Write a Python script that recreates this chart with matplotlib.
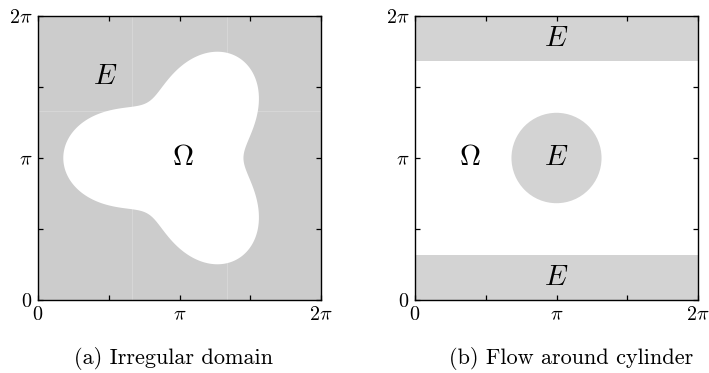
import numpy as np
import matplotlib
matplotlib.use("Agg")
import matplotlib.pyplot as plt
from matplotlib.patches import Circle, Rectangle

plt.rcParams['font.family'] = 'serif'
plt.rcParams['font.serif'] = ['cmr10']
plt.rcParams['mathtext.fontset'] = 'cm'
plt.rcParams['axes.unicode_minus'] = False

# domain and tick setup
L = 2 * np.pi
tick_pos = [0, np.pi / 2, np.pi, 3 * np.pi / 2, 2 * np.pi]
tick_lab = [r'$0$', '', r'$\pi$', '', r'$2\pi$']

# (a) irregular domain: three-lobed body centred in the box
lobe_center = (np.pi, np.pi)
lobe_r_mean = 2.0
lobe_r_amp = 0.58
n_lobes = 3
seam_x = [2 * np.pi / 3, 4 * np.pi / 3]
seam_y = [4 * np.pi / 3]

# (b) flow around cylinder: walls at top/bottom and a cylinder in the middle
wall_h = 1.0
cyl_center = (np.pi, np.pi)
cyl_r = 1.0

captions = ['(a) Irregular domain', '(b) Flow around cylinder']

fig = plt.figure(figsize=(7.09, 3.73), dpi=100)
ax1 = fig.add_axes([38 / 709, 73 / 373, 283 / 709, 284 / 373])
ax2 = fig.add_axes([415 / 709, 73 / 373, 283 / 709, 284 / 373])

for ax in (ax1, ax2):
    ax.set_xlim(0, L)
    ax.set_ylim(0, L)
    ax.set_xticks(tick_pos)
    ax.set_xticklabels(tick_lab)
    ax.set_yticks(tick_pos)
    ax.set_yticklabels(tick_lab)
    ax.tick_params(direction='in', top=True, right=True, length=3.5, width=0.9,
                   labelsize=14.5)
    ax.tick_params(axis='x', pad=4.5)
    ax.tick_params(axis='y', pad=4)
    for s in ax.spines.values():
        s.set_linewidth(1.0)

# panel (a)
ax1.set_facecolor('#cccccc')
for x in seam_x:
    ax1.axvline(x, color='#d8d8d8', lw=0.6, zorder=0.5)
for y in seam_y:
    ax1.axhline(y, color='#d8d8d8', lw=0.6, zorder=0.5)
th = np.linspace(0, 2 * np.pi, 600)
r = lobe_r_mean - lobe_r_amp * np.cos(n_lobes * th)
ax1.fill(lobe_center[0] + r * np.cos(th), lobe_center[1] + r * np.sin(th),
         color='white', lw=0, zorder=1)
ax1.text(1.49, 4.93, r'$E$', fontsize=21, ha='center', va='center', zorder=3)
ax1.text(3.22, np.pi, r'$\Omega$', fontsize=21, ha='center', va='center', zorder=3)

# panel (b)
ax2.set_facecolor('white')
band_col = '#d3d3d3'
ax2.add_patch(Rectangle((0, 0), L, wall_h, color=band_col, lw=0))
ax2.add_patch(Rectangle((0, L - wall_h), L, wall_h, color=band_col, lw=0))
ax2.add_patch(Circle(cyl_center, cyl_r, color=band_col, lw=0))
ax2.text(np.pi, L - wall_h / 2, r'$E$', fontsize=21, ha='center', va='center')
ax2.text(np.pi, wall_h / 2, r'$E$', fontsize=21, ha='center', va='center')
ax2.text(cyl_center[0], cyl_center[1], r'$E$', fontsize=21, ha='center', va='center')
ax2.text(1.22, np.pi, r'$\Omega$', fontsize=21, ha='center', va='center')

fig.text(173.5 / 709, 1 - 359 / 373, captions[0], fontsize=16, ha='center', va='center')
fig.text(571 / 709, 1 - 359 / 373, captions[1], fontsize=16, ha='center', va='center')

fig.savefig('out.png', dpi=100)
